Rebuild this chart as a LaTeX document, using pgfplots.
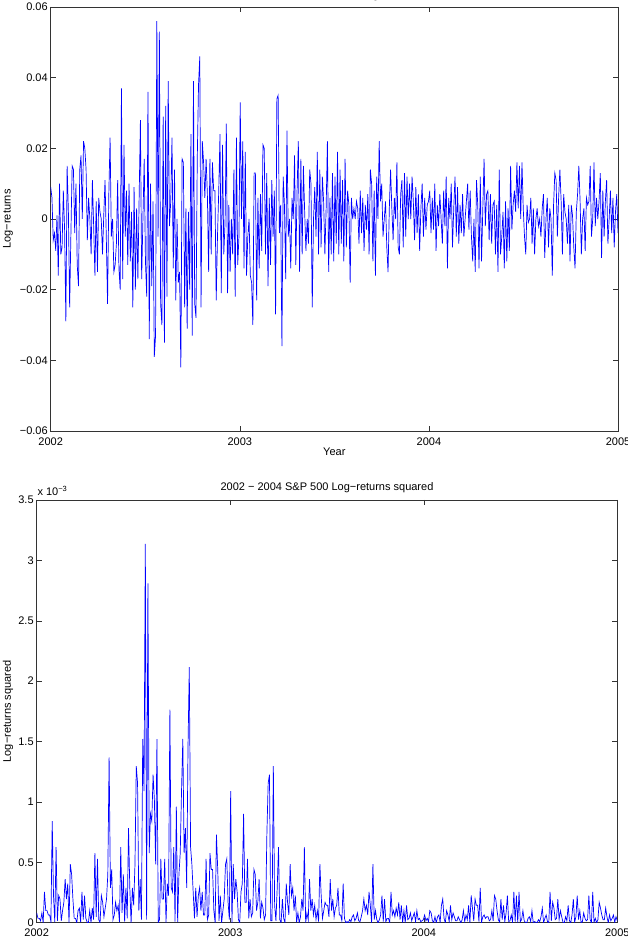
\documentclass[border=0pt]{standalone}
\usepackage{fontspec}
\setmainfont{Liberation Sans}
\usepackage{pgfplots}
\pgfplotsset{compat=1.18}
\usepackage{pgfplotstable}
% r = log-return in units of 1e-3 ; s = squared log-return in units of 1e-3
\pgfplotstableread[row sep=\\]{
r s\\
9 0.081\\ 6 0.036\\ -6 0.036\\ -4 0.016\\ -9 0.081\\ 1 0.001\\ -16 0.256\\ 10 0.1\\ -10 0.1\\ -8 0.064\\
8 0.064\\ -3 0.009\\ -29 0.841\\ 15 0.225\\ 2 0.004\\ -25 0.625\\ -4 0.016\\ 15 0.225\\ 14 0.196\\ -4 0.016\\
10 0.1\\ -13 0.169\\ -19 0.361\\ 14 0.196\\ 18 0.324\\ 0 0\\ 22 0.484\\ 20 0.4\\ 14 0.196\\ -6 0.036\\
6 0.036\\ 0 0\\ -10 0.1\\ 11 0.121\\ -2 0.004\\ -16 0.256\\ 5 0.025\\ -15 0.225\\ 6 0.036\\ 2 0.004\\
0 0\\ -10 0.1\\ 1 0.001\\ 11 0.121\\ -5 0.025\\ -24 0.576\\ 7 0.049\\ 23 0.529\\ -5 0.025\\ 0 0\\
-15 0.225\\ -13 0.169\\ -7 0.049\\ 11 0.121\\ -14 0.196\\ -20 0.4\\ 37 1.369\\ -17 0.289\\ 21 0.441\\ -5 0.025\\
8 0.064\\ -13 0.169\\ 10 0.1\\ -12 0.144\\ 2 0.004\\ -25 0.625\\ 9 0.081\\ -20 0.4\\ 3 0.009\\ -17 0.289\\
6 0.036\\ 28 0.784\\ -17 0.289\\ 0 0\\ 17 0.289\\ -12 0.144\\ -22 0.484\\ 36 1.296\\ -34 1.156\\ 10 0.1\\
-19 0.361\\ 5 0.025\\ -39 1.521\\ -33 1.089\\ 56 3.136\\ -5 0.025\\ 53 2.809\\ -24 0.576\\ -30 0.9\\ 29 0.841\\
-35 1.225\\ 32 1.024\\ -22 0.484\\ 39 1.521\\ -2 0.004\\ 5 0.025\\ 23 0.529\\ -14 0.196\\ 14 0.196\\ -23 0.529\\
0 0\\ -18 0.324\\ -15 0.225\\ -42 1.764\\ 17 0.289\\ 16 0.256\\ -25 0.625\\ 3 0.009\\ -31 0.961\\ 2 0.004\\
-20 0.4\\ 24 0.576\\ -33 1.089\\ 39 1.521\\ -24 0.576\\ -28 0.784\\ 17 0.289\\ 38 1.444\\ 46 2.116\\ -25 0.625\\
22 0.484\\ 16 0.256\\ 6 0.036\\ 17 0.289\\ 7 0.049\\ -15 0.225\\ 17 0.289\\ -10 0.1\\ 16 0.256\\ 8 0.064\\
8 0.064\\ -23 0.529\\ -5 0.025\\ 8 0.064\\ 24 0.576\\ -21 0.441\\ 21 0.441\\ -10 0.1\\ -1 0.001\\ 27 0.729\\
-21 0.441\\ 4 0.016\\ -15 0.225\\ 0 0\\ -10 0.1\\ 14 0.196\\ -22 0.484\\ 23 0.529\\ -13 0.169\\ -5 0.025\\
33 1.089\\ 0 0\\ 22 0.484\\ -14 0.196\\ 19 0.361\\ -16 0.256\\ -5 0.025\\ 0 0\\ -16 0.256\\ -18 0.324\\
-30 0.9\\ 13 0.169\\ 13 0.169\\ -23 0.529\\ 6 0.036\\ -14 0.196\\ 7 0.049\\ -9 0.081\\ 21 0.441\\ 20 0.4\\
-10 0.1\\ 13 0.169\\ -19 0.361\\ 6 0.036\\ -13 0.169\\ 11 0.121\\ -5 0.025\\ 8 0.064\\ -27 0.729\\ 34 1.156\\
35 1.225\\ -4 0.016\\ 4 0.016\\ -36 1.296\\ 12 0.144\\ 4 0.016\\ -17 0.289\\ 25 0.625\\ -5 0.025\\ 0 0\\
-14 0.196\\ 6 0.036\\ 0 0\\ 18 0.324\\ -13 0.169\\ 8 0.064\\ 22 0.484\\ -15 0.225\\ 17 0.289\\ -10 0.1\\
15 0.225\\ 2 0.004\\ -9 0.081\\ 0 0\\ -7 0.049\\ 14 0.196\\ 10 0.1\\ -25 0.625\\ 0 0\\ 9 0.081\\
-5 0.025\\ 19 0.361\\ -10 0.1\\ 14 0.196\\ -8 0.064\\ 12 0.144\\ 5 0.025\\ -10 0.1\\ 3 0.009\\ 22 0.484\\
-15 0.225\\ 6 0.036\\ -10 0.1\\ 13 0.169\\ -12 0.144\\ 12 0.144\\ -7 0.049\\ 19 0.361\\ -10 0.1\\ 14 0.196\\
-7 0.049\\ 11 0.121\\ -12 0.144\\ 17 0.289\\ -8 0.064\\ 8 0.064\\ 4 0.016\\ -18 0.324\\ 6 0.036\\ 0 0\\
3 0.009\\ 0 0\\ 5 0.025\\ 3 0.009\\ -7 0.049\\ 8 0.064\\ -4 0.016\\ 6 0.036\\ -9 0.081\\ 4 0.016\\
-3 0.009\\ 7 0.049\\ -10 0.1\\ 14 0.196\\ 10 0.1\\ -12 0.144\\ 8 0.064\\ -16 0.256\\ 12 0.144\\ 0 0\\
22 0.484\\ 5 0.025\\ 10 0.1\\ -5 0.025\\ 0 0\\ 5 0.025\\ -8 0.064\\ -15 0.225\\ 3 0.009\\ 14 0.196\\
3 0.009\\ -6 0.036\\ 6 0.036\\ 0 0\\ 16 0.256\\ -8 0.064\\ -10 0.1\\ 7 0.049\\ 11 0.121\\ -8 0.064\\
13 0.169\\ -5 0.025\\ 12 0.144\\ 0 0\\ 10 0.1\\ 0 0\\ 12 0.144\\ 5 0.025\\ -6 0.036\\ 9 0.081\\
-4 0.016\\ 7 0.049\\ -9 0.081\\ 3 0.009\\ 10 0.1\\ -5 0.025\\ 6 0.036\\ -3 0.009\\ 4 0.016\\ 5 0.025\\
8 0.064\\ -4 0.016\\ 6 0.036\\ -3 0.009\\ 10 0.1\\ -9 0.081\\ 4 0.016\\ -2 0.004\\ 7 0.049\\ 0 0\\
-7 0.049\\ 8 0.064\\ -2 0.004\\ 12 0.144\\ -14 0.196\\ 6 0.036\\ 0 0\\ 10 0.1\\ -8 0.064\\ 3 0.009\\
12 0.144\\ -5 0.025\\ 9 0.081\\ -7 0.049\\ 4 0.016\\ -4 0.016\\ 7 0.049\\ -5 0.025\\ 0 0\\ 5 0.025\\
10 0.1\\ -3 0.009\\ 8 0.064\\ -5 0.025\\ -12 0.144\\ 0 0\\ -15 0.225\\ 11 0.121\\ 4 0.016\\ -14 0.196\\
12 0.144\\ -12 0.144\\ 3 0.009\\ 17 0.289\\ -2 0.004\\ 7 0.049\\ 8 0.064\\ -6 0.036\\ 7 0.049\\ -7 0.049\\
4 0.016\\ 5 0.025\\ -10 0.1\\ 4 0.016\\ -15 0.225\\ 14 0.196\\ -10 0.1\\ -5 0.025\\ 2 0.004\\ -14 0.196\\
5 0.025\\ -12 0.144\\ 3 0.009\\ -9 0.081\\ 15 0.225\\ -3 0.009\\ 4 0.016\\ 8 0.064\\ 2 0.004\\ 16 0.256\\
3 0.009\\ 15 0.225\\ 0 0\\ 16 0.256\\ 3 0.009\\ -5 0.025\\ -10 0.1\\ 4 0.016\\ -1 0.001\\ 0 0\\
6 0.036\\ -7 0.049\\ 3 0.009\\ -10 0.1\\ 0 0\\ 3 0.009\\ -2 0.004\\ 0 0\\ -5 0.025\\ 3 0.009\\
7 0.049\\ -11 0.121\\ 0 0\\ 6 0.036\\ -8 0.064\\ 3 0.009\\ 0 0\\ -16 0.256\\ 4 0.016\\ 13 0.169\\
11 0.121\\ -5 0.025\\ 6 0.036\\ 14 0.196\\ 5 0.025\\ -10 0.1\\ 7 0.049\\ 2 0.004\\ 0 0\\ -7 0.049\\
4 0.016\\ -12 0.144\\ 4 0.016\\ 1 0.001\\ -8 0.064\\ -14 0.196\\ 2 0.004\\ 7 0.049\\ 15 0.225\\ 5 0.025\\
-10 0.1\\ 0 0\\ 3 0.009\\ -9 0.081\\ 6 0.036\\ 4 0.016\\ 5 0.025\\ 15 0.225\\ -5 0.025\\ 0 0\\
16 0.256\\ -2 0.004\\ 6 0.036\\ 0 0\\ 5 0.025\\ 13 0.169\\ -11 0.121\\ 8 0.064\\ -5 0.025\\ 5 0.025\\
11 0.121\\ -7 0.049\\ 0 0\\ 8 0.064\\ -4 0.016\\ 6 0.036\\ -8 0.064\\ 2 0.004\\ 7 0.049\\ -4 0.016\\
}\returns

\pgfplotsset{
  matlab/.style={
    scale only axis,
    anchor=south west,
    clip mode=individual,
    font=\fontsize{11}{13}\selectfont,
    xmin=0, xmax=449,
    xtick={0,149.67,299.33,449},
    xticklabels={2002,2003,2004,2005},
    xticklabel style={yshift=-3pt},
    yticklabel style={xshift=0.5pt},
    tick align=inside,
    major tick length=5pt,
    axis line style={black!80, line width=0.6pt},
    tick style={black!80, line width=0.5pt},
    every axis title/.style={at={(axis description cs:0.5,1)}, anchor=base},
  }
}

\begin{document}
\begin{tikzpicture}[x=1pt,y=1pt]
% ---------- top panel ----------
\begin{axis}[matlab,
  at={(50.7pt,508pt)},
  width=567.3pt, height=424pt,
  ymin=-60, ymax=60,
  ytick={-60,-40,-20,0,20,40,60},
  yticklabels={−0.06,−0.04,−0.02,0,0.02,0.04,0.06},
  title={2002 − 2004 S\&P 500 Log−returns},
  title style={yshift=8pt},
  xlabel={Year},
  xlabel style={at={(axis description cs:0.5,0)}, anchor=base, yshift=-25pt},
  ylabel={Log−returns},
  ylabel style={at={(axis description cs:-0.0753,0.5)}, anchor=center},
]
\addplot[blue, line width=0.7pt, no marks] table[x expr=\coordindex, y=r] {\returns};
\end{axis}
% ---------- bottom panel ----------
\begin{axis}[matlab,
  at={(36.7pt,16.3pt)},
  width=580.6pt, height=422.7pt,
  ymin=0, ymax=3.5,
  ytick={0,0.5,1,1.5,2,2.5,3,3.5},
  yticklabels={0,0.5,1,1.5,2,2.5,3,3.5},
  title={2002 − 2004 S\&P 500 Log−returns squared},
  title style={yshift=9pt},
  ylabel={Log−returns squared},
  ylabel style={at={(axis description cs:-0.0494,0.5)}, anchor=center},
]
\addplot[blue, line width=0.7pt, no marks] table[x expr=\coordindex, y=s] {\returns};
\node[anchor=base west, inner sep=0pt, xshift=0.6pt, yshift=4.3pt] at (rel axis cs:0,1)
  {x 10\raisebox{4pt}{\fontsize{7.5}{8}\selectfont −3}};
\end{axis}
\pgfresetboundingbox
\path[use as bounding box] (0,0) rectangle (627pt,939pt);
\end{tikzpicture}
\end{document}
